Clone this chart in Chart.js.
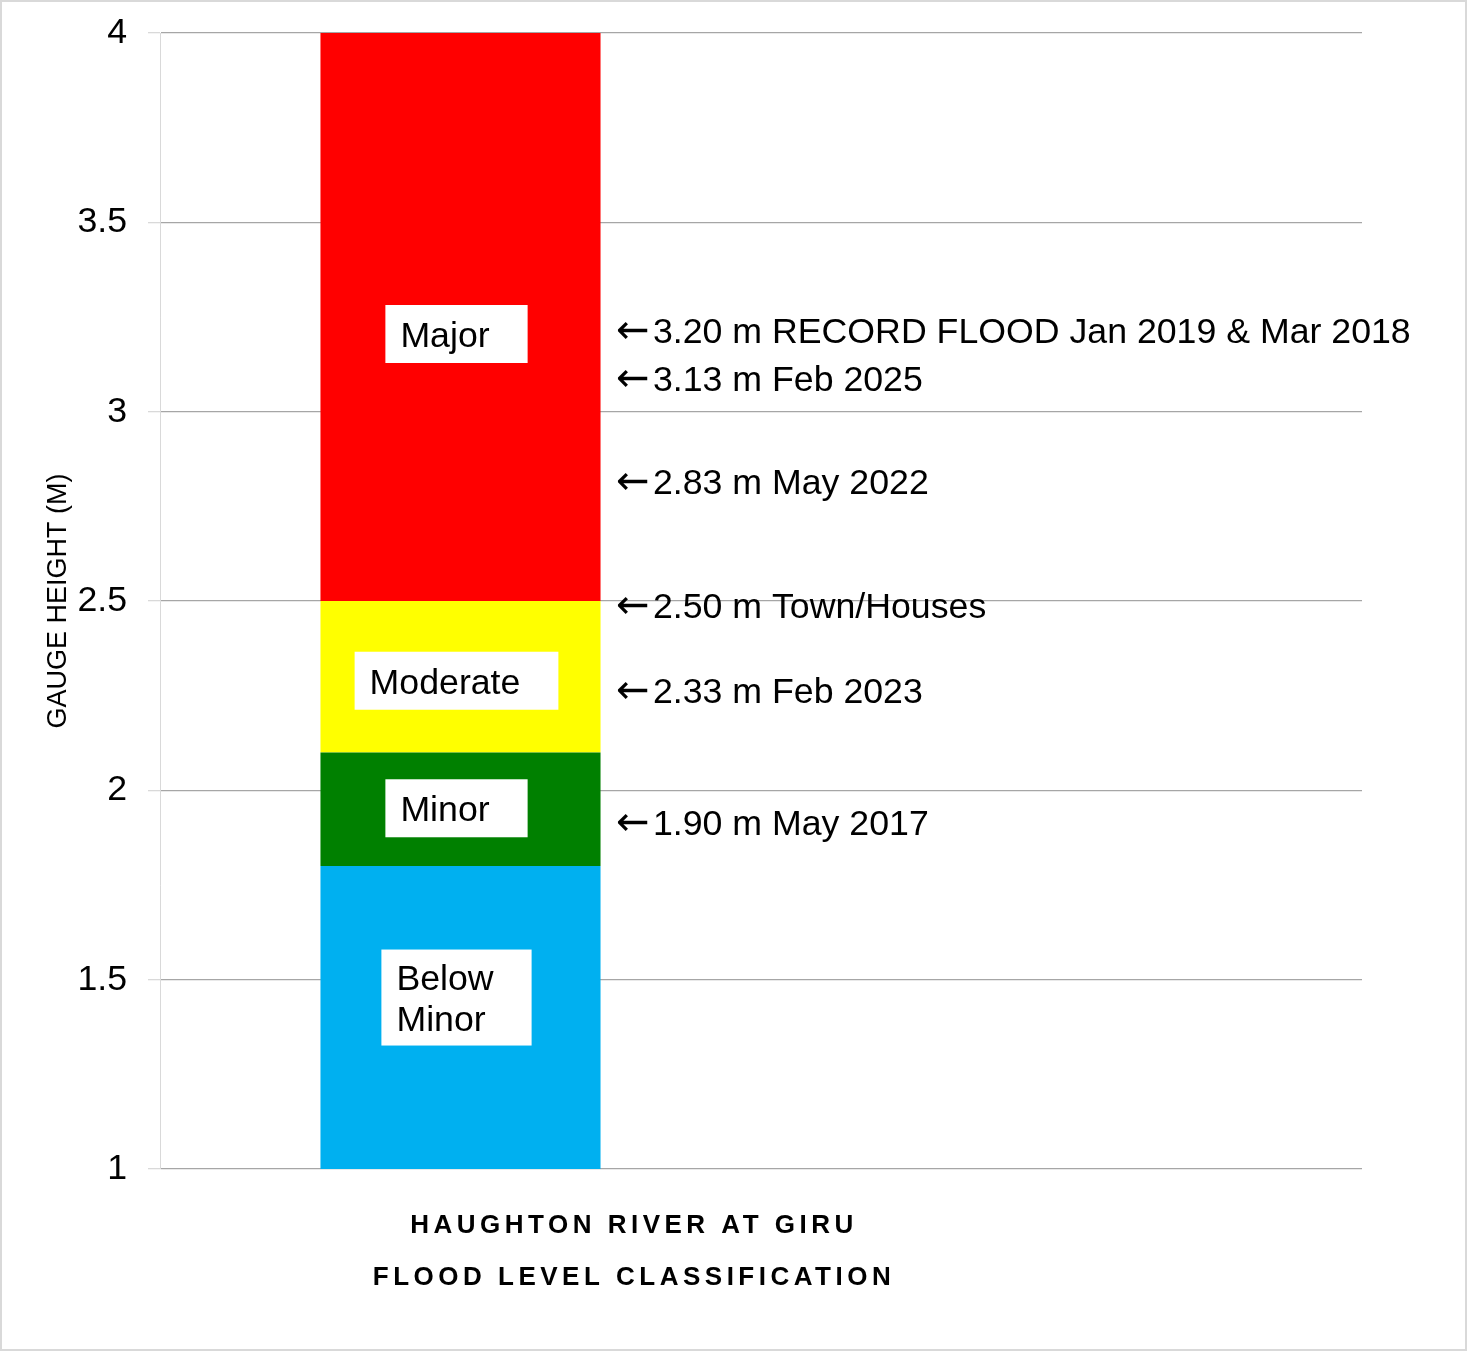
<!doctype html>
<html>
<head>
<title>Haughton River at Giru - Flood Level Classification</title>
<script src="https://cdn.jsdelivr.net/npm/chart.js@4.4.1/dist/chart.umd.min.js"></script>
<style>
html, body { margin: 0; padding: 0; background: #fff; }
#container { width: 1467px; height: 1351px; position: relative; }
</style>
</head>
<body>
	<div id="container">
		<canvas id="canvas"></canvas>
	</div>

	<script>
	// flood classes (bottom to top)
	var levelNames  = ['Below Minor', 'Minor', 'Moderate', 'Major'];
	var levelFrom   = [1.0, 1.8, 2.1, 2.5];
	var levelTo     = [1.8, 2.1, 2.5, 4.0];
	var levelColors = ['#00b0f0', '#008000', '#ffff00', '#ff0000'];

	// recorded heights shown on the right
	var eventHeights = [3.20, 3.13, 2.83, 2.50, 2.33, 1.90];
	var eventNames   = ['RECORD FLOOD Jan 2019 & Mar 2018', 'Feb 2025', 'May 2022',
	                    'Town/Houses', 'Feb 2023', 'May 2017'];

	var categories = ['Haughton River at Giru', ''];
	var titleLines = ['HAUGHTON RIVER AT GIRU', 'FLOOD LEVEL CLASSIFICATION'];
	var yTitle = 'GAUGE HEIGHT (M)';

	var FONT = '"Liberation Sans", Arial, sans-serif';
	var FS = 35.7;

	var datasets = levelNames.map(function(name, i) {
		return {
			label: name,
			data: [[levelFrom[i], levelTo[i]], null],
			backgroundColor: levelColors[i],
			borderWidth: 0,
			categoryPercentage: 0.466,
			barPercentage: 1
		};
	});

	// label nudges in pixels (text boxes were placed by hand in the original)
	var boxNudge = { 'Major': 17, 'Moderate': 4, 'Minor': -1, 'Below Minor': -20 };
	var eventNudge = [-6, 16, 5, 4, 25, -6];

	var labelsPlugin = {
		id: 'labels',
		beforeDraw: function(chart) {
			var ctx = chart.ctx;
			ctx.save();
			ctx.fillStyle = '#fff';
			ctx.fillRect(0, 0, chart.width, chart.height);
			ctx.strokeStyle = '#d9d9d9';
			ctx.lineWidth = 2;
			ctx.strokeRect(1, 1, chart.width - 2, chart.height - 2);
			ctx.restore();
		},
		afterDatasetsDraw: function(chart) {
			var ctx = chart.ctx;
			var y = chart.scales.y;
			var bar = chart.getDatasetMeta(0).data[0];
			var cx = bar.x - 4;
			ctx.save();
			ctx.font = FS + 'px ' + FONT;
			ctx.textBaseline = 'alphabetic';

			// class boxes inside the bar
			levelNames.forEach(function(name, i) {
				var lines = name === 'Below Minor' ? ['Below', 'Minor'] : [name];
				var tw = Math.max.apply(null, lines.map(function(l) { return ctx.measureText(l).width; }));
				var w = tw + 15 + 38;
				var h = lines.length > 1 ? 96 : 58;
				var cy = y.getPixelForValue((levelFrom[i] + levelTo[i]) / 2) + boxNudge[name];
				var left = cx - w / 2;
				ctx.fillStyle = '#fff';
				ctx.fillRect(left, cy - h / 2, w, h);
				ctx.fillStyle = '#000';
				ctx.textAlign = 'left';
				lines.forEach(function(l, k) {
					var ly = cy + (k - (lines.length - 1) / 2) * 41;
					ctx.fillText(l, left + 15, ly + 12.8);
				});
			});

			// recorded heights
			ctx.fillStyle = '#000';
			eventHeights.forEach(function(v, i) {
				var py = y.getPixelForValue(v) + eventNudge[i];
				ctx.font = '40px "DejaVu Sans", sans-serif';
				ctx.fillText('\u2190', 616, py + 13);
				ctx.font = FS + 'px ' + FONT;
				ctx.fillText(v.toFixed(2) + ' m ' + eventNames[i], 653, py + 12.8);
			});

			// bottom title
			ctx.font = 'bold 26px ' + FONT;
			ctx.letterSpacing = '4.5px';
			ctx.textAlign = 'center';
			ctx.fillText(titleLines[0], 634, 1224 + 9.3);
			ctx.fillText(titleLines[1], 634, 1276 + 9.3);
			ctx.restore();
		}
	};

	var ctx = document.getElementById('canvas').getContext('2d');
	window.myBar = new Chart(ctx, {
		type: 'bar',
		data: { labels: categories, datasets: datasets },
		plugins: [labelsPlugin],
		options: {
			responsive: true,
			maintainAspectRatio: false,
			animation: false,
			layout: { padding: { left: 0, top: 33, right: 105, bottom: 182 } },
			plugins: {
				legend: { display: false },
				tooltip: { enabled: false }
			},
			scales: {
				x: {
					stacked: true,
					ticks: { display: false },
					grid: { display: false, drawTicks: false },
					border: { display: false },
					afterFit: function(scale) {
						scale.height = 0;
						scale.paddingLeft = scale.paddingRight = 0;
					}
				},
				y: {
					stacked: false,
					min: 1,
					max: 4,
					ticks: {
						stepSize: 0.5,
						color: '#000',
						padding: 21,
						font: { family: FONT, size: FS },
						callback: function(value) { return String(value); }
					},
					grid: {
						color: '#a6a6a6',
						tickColor: '#d9d9d9',
						tickLength: 12,
						lineWidth: 1.3
					},
					border: { color: '#d9d9d9', width: 1 },
					title: {
						display: true,
						text: yTitle,
						color: '#000',
						font: { family: FONT, size: 27 },
						padding: { top: 42, bottom: 0 }
					},
					afterFit: function(scale) {
						scale.width = 160;
						scale.paddingTop = scale.paddingBottom = 0;
					}
				}
			}
		}
	});
	</script>
</body>
</html>
